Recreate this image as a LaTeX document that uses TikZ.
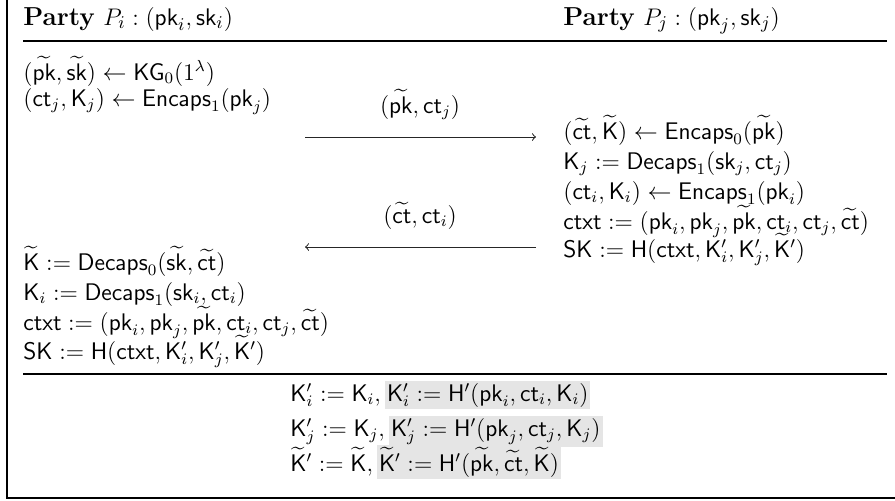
\documentclass[tikz,border=0pt,12pt]{standalone}
\usepackage{amsmath,amssymb}
\usepackage{xcolor}
% sans-serif protocol symbols
\newcommand{\Spk}{\mathsf{pk}}
\newcommand{\Ssk}{\mathsf{sk}}
\newcommand{\Sct}{\mathsf{ct}}
\newcommand{\SK}{\mathsf{K}}
\newcommand{\Sctxt}{\mathsf{ctxt}}
\newcommand{\SSK}{\mathsf{SK}}
\newcommand{\SH}{\mathsf{H}}
\newcommand{\Enc}{\mathsf{Encaps}}
\newcommand{\Dec}{\mathsf{Decaps}}
\newcommand{\KGen}{\mathsf{KG}}
\newcommand{\tpk}{\widetilde{\Spk}}
\newcommand{\tsk}{\widetilde{\Ssk}}
\newcommand{\tct}{\widetilde{\Sct}}
\newcommand{\tK}{\widetilde{\SK}}
\newcommand{\hl}[1]{{\setlength{\fboxsep}{1pt}\colorbox{gray!20}{$#1$}}}
\begin{document}
\begin{tikzpicture}[x=0.5pt,y=-0.5pt,
  rule/.style={line width=0.6pt},
  txt/.style={anchor=base west,inner sep=0pt},
  head/.style={txt,font=\fontsize{13}{16}\selectfont},
  msg/.style={anchor=base,inner sep=0pt},
  flow/.style={line width=0.5pt,black!85}]
\useasboundingbox (0,0) rectangle (895,500);

% frame and rules
\draw[rule] (7,0) -- (7,498) -- (895,498);
\draw[rule] (23,41) -- (887,41);
\draw[rule] (23,374) -- (887,374);

% headers
\node[head] (hi) at (23,25) {$\textbf{Party}\ P_i : (\Spk_i,\Ssk_i)$};
\node[head] (hj) at (563,25) {$\textbf{Party}\ P_j : (\Spk_j,\Ssk_j)$};

% party i, first steps
\node[txt] (l1) at (23,80) {$(\tpk,\tsk) \leftarrow \KGen_0(1^\lambda)$};
\node[txt] (l2) at (23,106) {$(\Sct_j,\SK_j) \leftarrow \Enc_1(\Spk_j)$};

% party j
\node[txt] (r1) at (563,139) {$(\tct,\tK) \leftarrow \Enc_0(\tpk)$};
\node[txt] (r2) at (563,169) {$\SK_j := \Dec_1(\Ssk_j,\Sct_j)$};
\node[txt] (r3) at (563,199) {$(\Sct_i,\SK_i) \leftarrow \Enc_1(\Spk_i)$};
\node[txt] (r4) at (563,229) {$\Sctxt := (\Spk_i,\Spk_j,\tpk,\Sct_i,\Sct_j,\tct)$};
\node[txt] (r5) at (563,257) {$\SSK := \SH(\Sctxt,\SK'_i,\SK'_j,\tK')$};

% party i, final steps
\node[txt] (l3) at (23,270) {$\tK := \Dec_0(\tsk,\tct)$};
\node[txt] (l4) at (23,300) {$\SK_i := \Dec_1(\Ssk_i,\Sct_i)$};
\node[txt] (l5) at (23,330) {$\Sctxt := (\Spk_i,\Spk_j,\tpk,\Sct_i,\Sct_j,\tct)$};
\node[txt] (l6) at (23,359) {$\SSK := \SH(\Sctxt,\SK'_i,\SK'_j,\tK')$};

% messages
\coordinate (a1s) at (305,137);
\coordinate (a1e) at (536,137);
\coordinate (a2s) at (536,247);
\coordinate (a2e) at (305,247);
\draw[flow,->] (a1s) -- (a1e);
\draw[flow,->] (a2s) -- (a2e);
\node[msg] (m1) at (420,113) {$(\tpk,\Sct_j)$};
\node[msg] (m2) at (420,223) {$(\tct,\Sct_i)$};

% key derivation
\node[txt] (k1) at (290,401) {$\SK'_i := \SK_i,\hl{\SK'_i := \SH'(\Spk_i,\Sct_i,\SK_i)}$};
\node[txt] (k2) at (290,436) {$\SK'_j := \SK_j,\hl{\SK'_j := \SH'(\Spk_j,\Sct_j,\SK_j)}$};
\node[txt] (k3) at (290,471) {$\tK' := \tK,\hl{\tK' := \SH'(\tpk,\tct,\tK)}$};
\end{tikzpicture}
\end{document}
